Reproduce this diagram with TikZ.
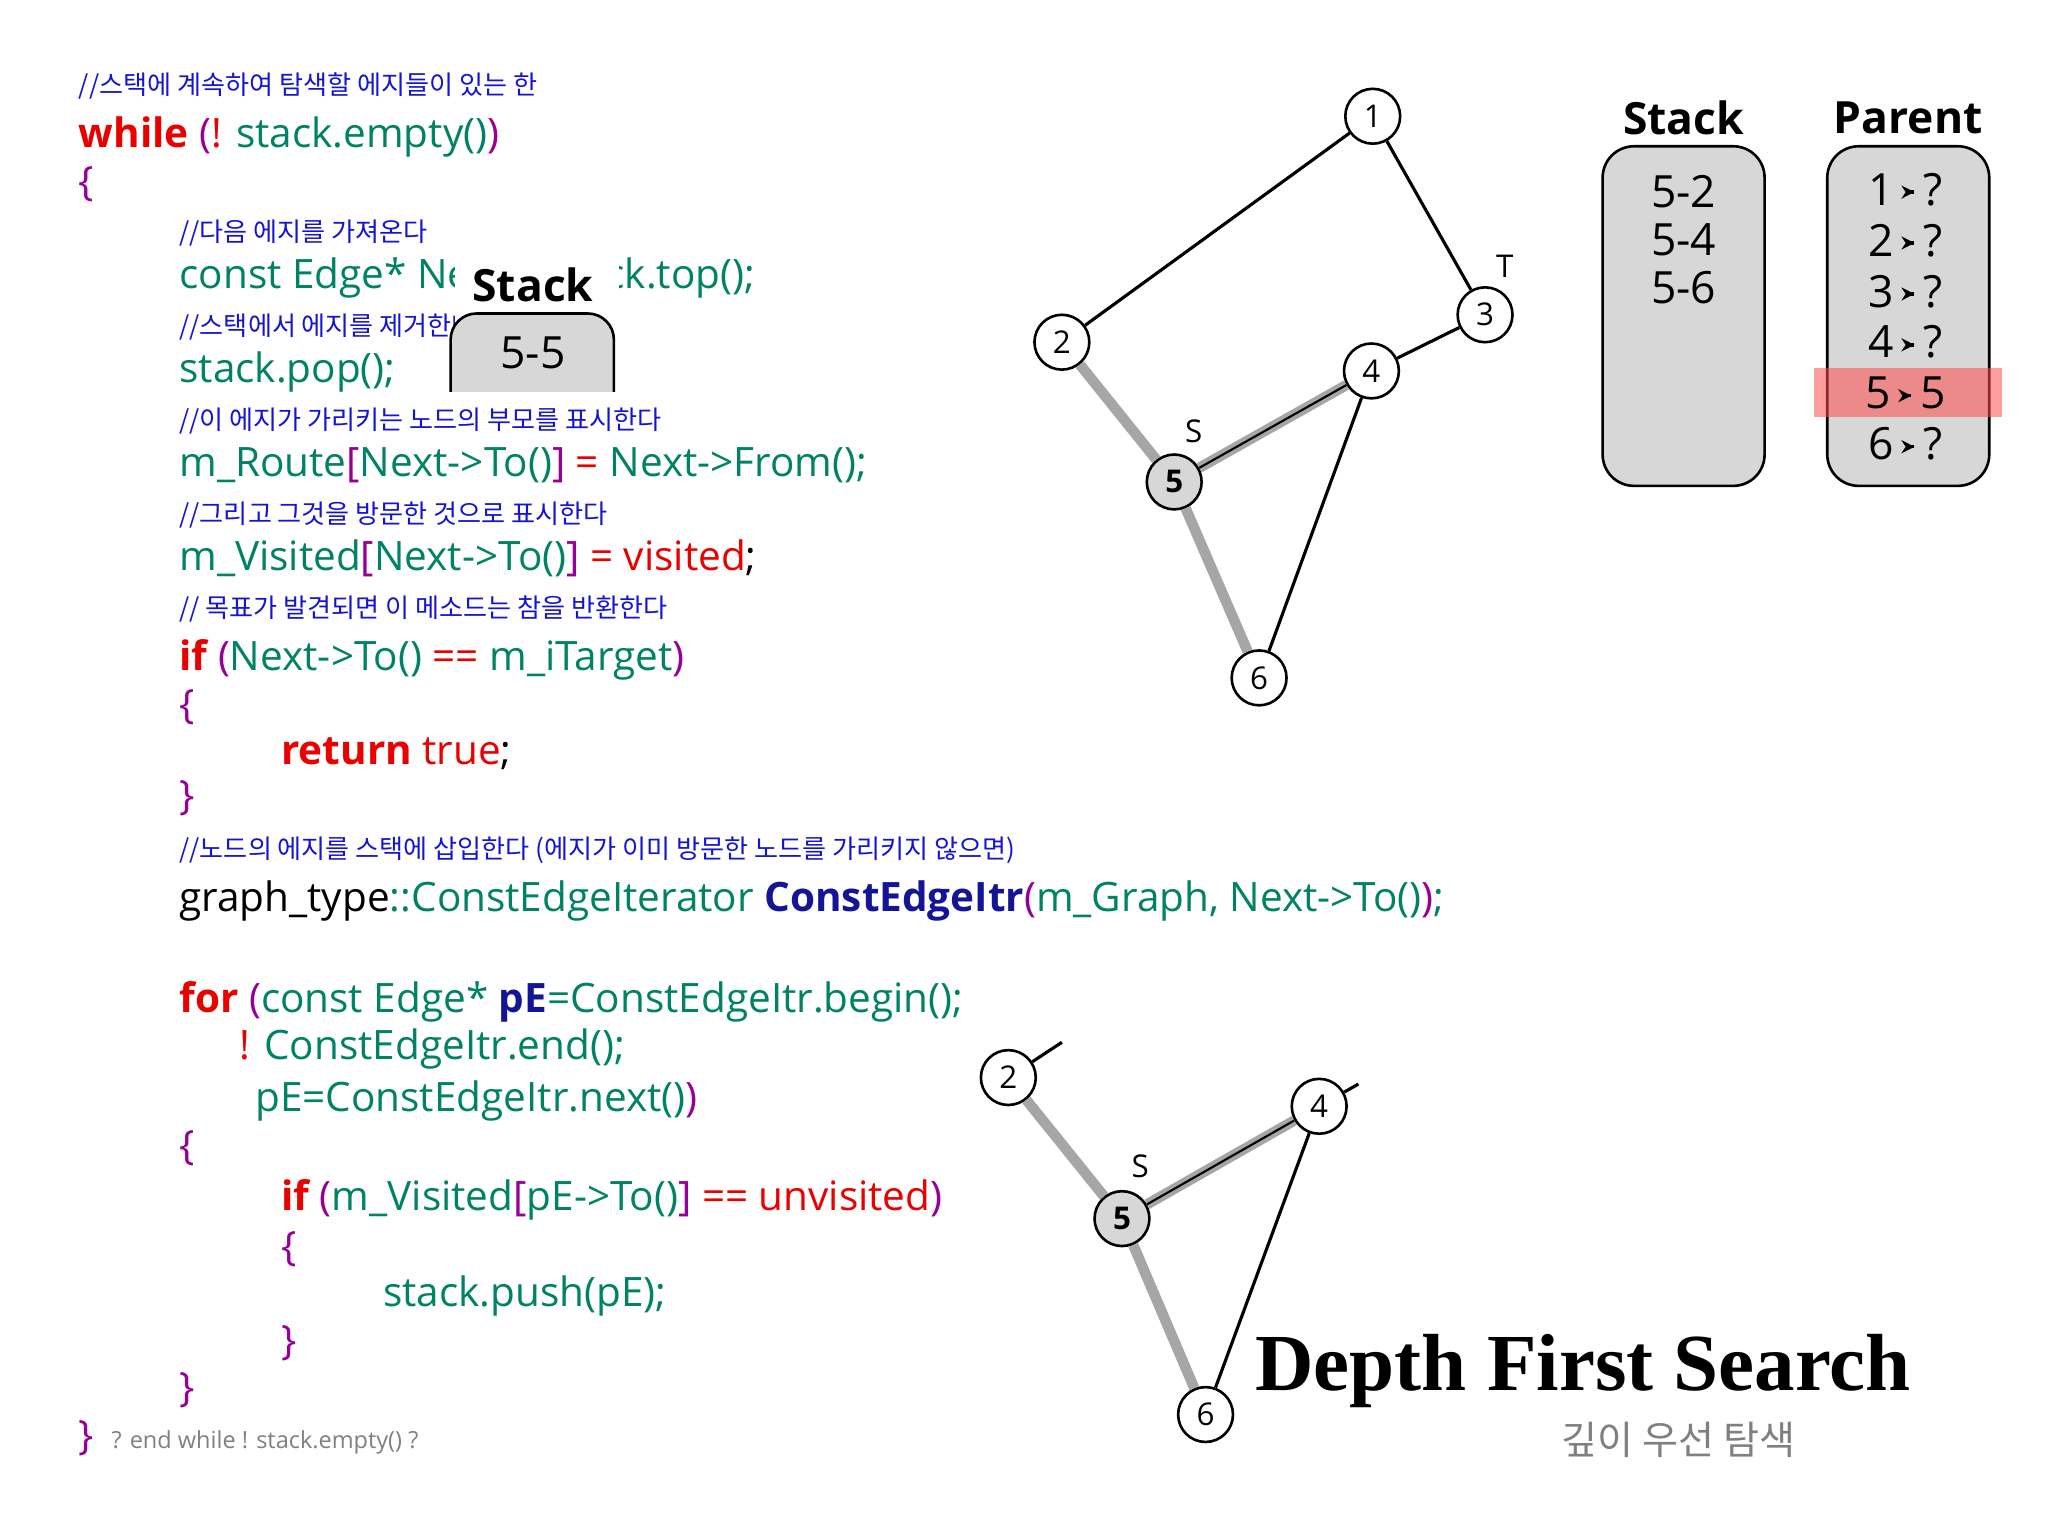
\documentclass[tikz,border=0pt]{standalone}
\usepackage{fontspec}
\usetikzlibrary{arrows.meta}
\setmainfont{Open Sans}
\newfontfamily\kr{Noto Sans CJK KR}
\newfontfamily\titlefont{Liberation Serif}
\definecolor{tl}{RGB}{0,130,100}
\definecolor{pu}{RGB}{150,0,150}
\definecolor{rd}{RGB}{235,0,0}
\definecolor{dbl}{RGB}{20,20,150}
\definecolor{cm}{RGB}{20,20,210}
\definecolor{gbox}{RGB}{215,215,215}
\newcommand{\cT}[1]{\textcolor{tl}{#1}}
\newcommand{\cP}[1]{\textcolor{pu}{#1}}
\newcommand{\cR}[1]{\textcolor{rd}{#1}}
\newcommand{\cKW}[1]{\textcolor{rd}{\bfseries #1}}
\newcommand{\parr}{\tikz[baseline=-0.55ex]\draw[-{Stealth[length=5pt,width=5pt]},line width=1.3pt] (0,0)--(0.45,0);}
\begin{document}
\begin{tikzpicture}[x=0.5pt,y=-0.5pt,
  code/.style={anchor=base west,inner sep=0,font=\fontsize{15.5}{18}\selectfont},
  cmt/.style={anchor=base west,inner sep=0,text=cm,font=\kr\fontsize{10}{12}\selectfont},
  gn/.style={circle,draw,line width=1pt,fill=white,minimum size=21pt,inner sep=0,font=\fontsize{12}{12}\selectfont},
  gs/.style={gn,fill=gbox,font=\bfseries\fontsize{12}{12}\selectfont},
  thick2/.style={line width=4pt,draw=gray!70},
  thin2/.style={line width=1.2pt},
  gpanel/.style={draw,line width=1pt,rounded corners=12pt,fill=gbox},
  hd/.style={font=\bfseries\fontsize{17}{17}\selectfont}]
\useasboundingbox (0,0) rectangle (1568,1176);
% code
\node[cmt] (c1) at (60,72) {//스택에 계속하여 탐색할 에지들이 있는 한};
\node[code] (l1) at (60,113) {\cKW{while} \cP{(}\cR{!} \cT{stack.empty()}\cP{)}};
\node[code] (l2) at (60,150) {\cP{\{}};
\node[cmt] (c2) at (137,185) {//다음 에지를 가져온다};
\node[code] (l3) at (137,221) {\cT{const Edge*} \cT{Next} \cR{=} \cT{stack.top();}};
\node[cmt] (c3) at (137,257) {//스택에서 에지를 제거한다};
\node[code] (l4) at (137,293) {\cT{stack.pop();}};
\node[cmt] (c4) at (137,329) {//이 에지가 가리키는 노드의 부모를 표시한다};
\node[code] (l5) at (137,365) {\cT{m\_Route}\cP{[}\cT{Next->To()}\cP{]} \cR{=} \cT{Next->From();}};
\node[cmt] (c5) at (137,401) {//그리고 그것을 방문한 것으로 표시한다};
\node[code] (l6) at (137,437) {\cT{m\_Visited}\cP{[}\cT{Next->To()}\cP{]} \cR{=} \cR{visited};};
\node[cmt] (c6) at (137,473) {// 목표가 발견되면 이 메소드는 참을 반환한다};
\node[code] (l7) at (137,513) {\cKW{if} \cP{(}\cT{Next->To()} \cR{==} \cT{m\_iTarget}\cP{)}};
\node[code] (l8) at (137,550) {\cP{\{}};
\node[code] (l9) at (215,585) {\cKW{return} \cR{true};};
\node[code] (l10) at (137,620) {\cP{\}}};
\node[cmt] (c7) at (137,657) {//노드의 에지를 스택에 삽입한다 (에지가 이미 방문한 노드를 가리키지 않으면)};
\node[code] (l11) at (137,698) {graph\_type\cT{::ConstEdgeIterator} \textcolor{dbl}{\bfseries ConstEdgeItr}\cP{(}\cT{m\_Graph, Next->To()}\cP{)}\cT{;}};
\node[code] (l12) at (137,775) {\cKW{for} \cP{(}\cT{const Edge*} \textcolor{dbl}{\bfseries pE}\cT{=ConstEdgeItr.begin();}};
\node[code] (l13) at (183,811) {\cR{!} \cT{ConstEdgeItr.end();}};
\node[code] (l14) at (195,851) {\cT{pE=ConstEdgeItr.next()}\cP{)}};
\node[code] (l15) at (137,888) {\cP{\{}};
\begin{scope}
\clip (200,880) rectangle (735,940);
\node[code] (l16) at (215,927) {\cKW{if} \cP{(}\cT{m\_Visited}\cP{[}\cT{pE->To()}\cP{]} \cR{==} \cR{unvisited}\cP{)}};
\end{scope}
\node[code] (l17) at (215,965) {\cP{\{}};
\node[code] (l18) at (293,1000) {\cT{stack.push(pE);}};
\node[code] (l19) at (215,1037) {\cP{\}}};
\node[code] (l20) at (137,1073) {\cP{\}}};
\node[code] (l21) at (60,1110) {\cP{\}}};
\node[anchor=base west,inner sep=0,text=gray,font=\fontsize{9}{9}\selectfont] (l22) at (85,1109) {? end while ! stack.empty() ?};
% small stack overlay
\fill[white] (348,195) rectangle (474,300);
\node[hd] (sh) at (408,218) {Stack};
\draw[gpanel,rounded corners=10pt] (345,300) -- (345,240) -- (470,240) -- (470,300);
\node[font=\fontsize{17}{17}\selectfont] (s55) at (408,270) {5-5};
% graph 1
\node[gn] (a1) at (1051,89) {1};
\node[gn] (a2) at (813,262) {2};
\node[gn] (a3) at (1137,241) {3};
\node[gn] (a4) at (1050,284) {4};
\node[gs] (a5) at (899,369) {5};
\node[gn] (a6) at (964,519) {6};
\draw[thin2] (a1) -- (a2);
\draw[thin2] (a1) -- (a3);
\draw[thin2] (a3) -- (a4);
\draw[thin2] (a4) -- (a6);
\draw[thick2] (a2) -- (a5);
\draw[thick2] (a5) -- (a6);
\draw[thick2] (a4) -- (a5);
\draw[line width=0.8pt] (a4) -- (a5);
\node[font=\fontsize{12}{12}\selectfont] (tT) at (1152,204) {T};
\node[font=\fontsize{12}{12}\selectfont] (tS) at (914,330) {S};
% graph 2
\coordinate (e2) at (813,798);
\coordinate (e4) at (1040,830);
\node[gn] (b2) at (772,825) {2};
\node[gn] (b4) at (1010,847) {4};
\node[gs] (b5) at (859,933) {5};
\node[gn] (b6) at (923,1083) {6};
\draw[thin2] (b2) -- (e2);
\draw[thin2] (b4) -- (e4);
\draw[thin2] (b4) -- (b6);
\draw[thick2] (b2) -- (b5);
\draw[thick2] (b5) -- (b6);
\draw[thick2] (b4) -- (b5);
\draw[line width=0.8pt] (b4) -- (b5);
\node[font=\fontsize{12}{12}\selectfont] (tS2) at (873,893) {S};
% panels
\node[hd] (sth) at (1289,90) {Stack};
\draw[gpanel] (1227,112) rectangle (1351,372);
\node[anchor=north,align=center,font=\fontsize{17}{18.5}\selectfont] (stk) at (1289,127) {5-2\\5-4\\5-6};
\node[hd] (pth) at (1461,90) {Parent};
\draw[gpanel] (1399,112) rectangle (1523,372);
\fill[red!70,opacity=0.55] (1389,282) rectangle (1533,319);
\foreach \i/\v/\y in {1/?/145,2/?/184,3/?/223,4/?/262,5/5/301,6/?/340}
  \node[font=\fontsize{17}{17}\selectfont] (p\i) at (1459,\y) {\i\,\parr\,\v};
% title
\node[font=\titlefont\bfseries\fontsize{31}{31}\selectfont] (title) at (1212,1050) {Depth First Search};
\node[text=gray,font=\kr\fontsize{15}{15}\selectfont] (sub) at (1285,1102) {깊이 우선 탐색};
\end{tikzpicture}
\end{document}
